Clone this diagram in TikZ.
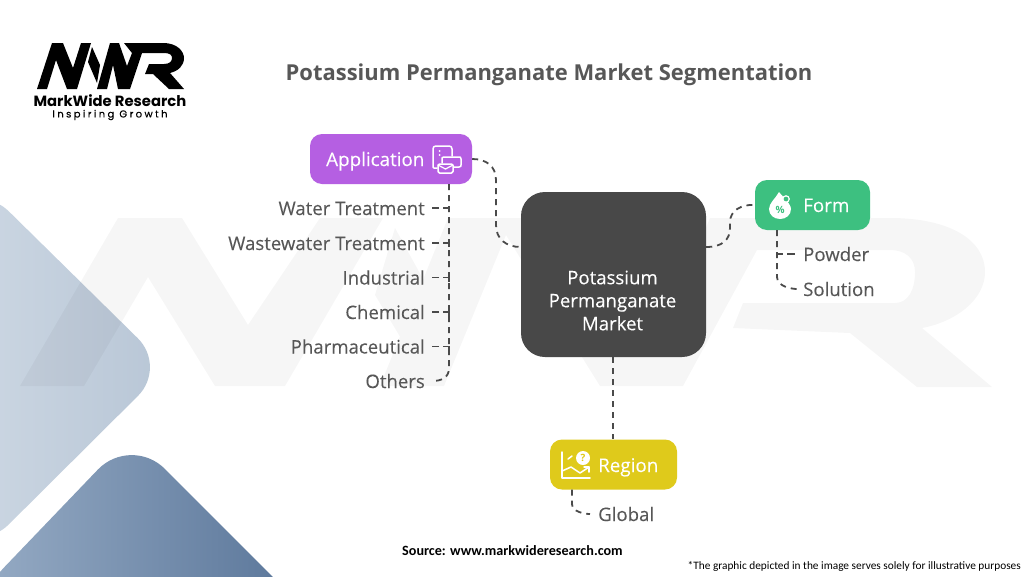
\documentclass[tikz,border=0pt]{standalone}
\usepackage{fontspec}
\usetikzlibrary{calc}
\setmainfont{Open Sans}
\newfontfamily\lbl[FakeBold=0.12]{Open Sans}
\newfontfamily\carl{Carlito}
\newfontfamily\popn{Poppins}
\newfontfamily\popls[LetterSpace=24,FakeBold=0.3]{Poppins}
\definecolor{txt}{HTML}{575757}
\definecolor{dashc}{HTML}{4A4A4A}
\definecolor{appc}{HTML}{B55FE2}
\definecolor{formc}{HTML}{3DC080}
\definecolor{regc}{HTML}{DFCA1B}
\definecolor{cenc}{HTML}{484848}
\tikzset{
 x=1pt,y=-1pt,
 box/.style={rounded corners=12pt,inner sep=0pt,minimum height=50pt},
 boxtxt/.style={inner sep=0pt,text=white,font=\lbl\fontsize{18.8}{23}\selectfont,text height=14pt,text depth=4pt},
 lab/.style={inner sep=0pt,text=txt,font=\lbl\fontsize{18.6}{23}\selectfont,text height=14pt,text depth=4pt},
 conn/.style={draw=dashc,line width=1.8pt,dash pattern=on 6pt off 5pt},
 tick/.style={conn,dash pattern=on 10pt off 4pt on 10pt},
 icon/.style={draw=white,line width=1.5pt,line cap=round,line join=round},
}
\begin{document}
\begin{tikzpicture}
\path[use as bounding box,fill=white] (0,0) rectangle (1024,576);
\begin{scope}
\clip (0,0) rectangle (1024,576);
\shade[left color={rgb,255:red,203;green,214;blue,226},right color={rgb,255:red,184;green,198;blue,214},rounded corners=41pt]
  (-20,183)--(167,367)--(-20,553)--cycle;
\shade[left color={rgb,255:red,152;green,173;blue,198},right color={rgb,255:red,88;green,116;blue,152},rounded corners=48pt]
  (-30,603)--(131,435)--(310,614)--cycle;
\fill[black,opacity=.035]
 (20,386)--(118,218)--(182,218)--(248,325)--(320,218)--(383,218)--(285,386)--(215,386)--(148,277)--(84,386)--cycle
 (395,228)--(440,310)--(420,370)--(375,295)--cycle
 (380,386)--(448,218)--(579,218)--(683,386)--(600,386)--(506,235)--(444,386)--cycle
 (710,218)--(890,218) .. controls (950,218) and (985,240) .. (985,272) .. controls (985,300) and (955,322) .. (922,328)
 --(992,387)--(917,387)--(850,333)--(733,328)--(743,303)--(895,303) .. controls (908,303) and (915,290) .. (915,272)
 .. controls (915,258) and (905,250) .. (890,250)--(757,250)--(683,386)--(640,386)--cycle;
\end{scope}
% logo
\fill[black]
 (37,89)--(52,43)--(63,43)--(73,68)--(81,43)--(91,43)--(77,89)--(67,89)--(56,60)--(47,89)--cycle
 (92,47)--(100,65)--(97,83)--(88,62)--cycle
 (97,89)--(110,43)--(119,43)--(127,66)--(132,53)--(124,43)--(163,43)
 .. controls (178,43) and (184,52) .. (184,58) .. controls (184,66) and (178,71) .. (170,73)
 --(184,89)--(169,89)--(153,74)--(145,74)--(149,64)--(164,64)
 .. controls (170,64) and (172,61) .. (172,58) .. controls (172,55) and (170,53) .. (164,53)
 --(142,53)--(130,89)--(118,89)--(113,65)--(107,89)--cycle;
\node[inner sep=0pt,font=\popn\bfseries\fontsize{14.8}{16}\selectfont] (brand) at (110,101) {MarkWide Research};
\node[inner sep=0pt,font=\popls\fontsize{10}{12}\selectfont] (tag) at (110,115) {Inspiring Growth};
\node[inner sep=0pt,text=txt,font=\bfseries\fontsize{21.95}{25}\selectfont] (title) at (549,75) {Potassium Permanganate Market Segmentation};
% boxes
\node[box,fill=appc,minimum width=162pt] (app) at (391,159) {};
\node[box,fill=formc,minimum width=115pt] (form) at (812.5,205) {};
\node[box,fill=regc,minimum width=127pt] (reg) at (613.5,464.5) {};
\node[fill=cenc,rounded corners=24pt,inner sep=0pt,minimum width=185pt,minimum height=165pt] (cen) at (613.5,274.5) {};
\node[boxtxt,anchor=west] (apptx) at (326,161) {Application};
\node[boxtxt,anchor=west] (formtx) at (803,207) {Form};
\node[boxtxt,anchor=west] (regtx) at (598,467) {Region};
\node[inner sep=0pt,text=white,align=center,font=\lbl\fontsize{18.6}{23}\selectfont] (centx) at (612.5,300.5) {Potassium\\Permanganate\\Market};
% labels
\node[lab,anchor=east] (l1) at (425,210) {Water Treatment};
\node[lab,anchor=east] (l2) at (425,245) {Wastewater Treatment};
\node[lab,anchor=east] (l3) at (425,279.5) {Industrial};
\node[lab,anchor=east] (l4) at (425,314) {Chemical};
\node[lab,anchor=east] (l5) at (425,348.5) {Pharmaceutical};
\node[lab,anchor=east] (l6) at (425,383) {Others};
\node[lab,anchor=west] (p1) at (803,256) {Powder};
\node[lab,anchor=west] (p2) at (803,291) {Solution};
\node[lab,anchor=west] (g1) at (598,516) {Global};
% connectors
\coordinate (av) at ([xshift=58pt]app.south);
\coordinate (fv) at ([xshift=-35.5pt]form.south);
\coordinate (rv) at ([xshift=-41.5pt]reg.south);
\draw[conn] (app.east) .. controls (486,159) and (496,166) .. (496,180) -- (496,225) .. controls (496,239) and (506,247) .. ([yshift=27.5pt]cen.west);
\draw[conn] (av) -- ([yshift=15pt]av|-l6.east) .. controls ([yshift=5pt]av|-l6.east) and ([xshift=-8pt,yshift=2pt]av|-l6.east) .. ([xshift=7pt,yshift=2pt]l6.east);
\foreach \n in {l1,l2,l3,l4,l5}{
  \draw[tick] ([yshift=-2pt]av|-\n.east) -- ([yshift=2pt]av|-\n.east) -- ([xshift=7pt,yshift=2pt]\n.east);
}
\draw[conn] ([yshift=27.5pt]cen.east) .. controls (722,247) and (730,240) .. (730,228) -- (730,222) .. controls (730,211) and (741,204) .. (form.west);
\draw[conn] (fv) -- ([yshift=14pt]fv|-p2.west) .. controls ([yshift=4pt]fv|-p2.west) and ([xshift=-10pt,yshift=2pt]p2.west) .. ([xshift=-6pt,yshift=2pt]p2.west);
\draw[tick] ([yshift=-2pt]fv|-p1.west) -- ([yshift=2pt]fv|-p1.west) -- ([xshift=-8pt,yshift=2pt]p1.west);
\draw[conn] ([xshift=-.5pt]cen.south) -- ([xshift=-.5pt]reg.north);
\draw[conn] (rv) -- ([yshift=12pt]rv|-g1.west) .. controls ([yshift=4pt]rv|-g1.west) and ([xshift=-13pt,yshift=2pt]g1.west) .. ([xshift=-8pt,yshift=2pt]g1.west);
% application icon
\draw[icon] (437,168)--(434,168) .. controls (433,168) and (433,167) .. (433,166) -- (433,149) .. controls (433,147) and (434,146) .. (436,146)--(449,146) .. controls (451,146) and (452,147) .. (452,149)--(452,156);
\draw[icon] (454,167)--(459,167) .. controls (461,167) and (461,166) .. (461,165)--(461,159) .. controls (461,157) and (460,157) .. (459,157)--(444,157) .. controls (442,157) and (442,158) .. (442,159)--(442,163);
\draw[icon,rounded corners=1.5pt] (438,164) rectangle (453,173);
\draw[icon,line width=1.2pt] (438,165)--(445.5,169)--(453,165);
\fill[white] (439.5,151) circle (1pt) (439.5,155) circle (1pt);
% form icon
\fill[white] (779,192) .. controls (776,198) and (769,203) .. (769,209) .. controls (769,215) and (774,219) .. (780,219) .. controls (786,219) and (791,215) .. (791,209) .. controls (791,204) and (783,197) .. (779,192) -- cycle;
\draw[white,fill=formc,line width=1.2pt] (786,199) circle (3.2pt);
\node[inner sep=0pt,text=formc,font=\bfseries\fontsize{10}{10}\selectfont] (pct) at (780,210) {\%};
% region icon
\draw[icon] (562,452)--(562,478)--(590,478);
\draw[icon] (562,471)--(571,467)--(580,473)--(589,467);
\draw[icon] (584,467)--(589,467)--(589,472);
\draw[icon] (568,459)--(572,456);
\fill[white] (583,458) circle (7pt);
\node[inner sep=0pt,text=regc,font=\bfseries\fontsize{10}{10}\selectfont] (qm) at (583,458) {?};
% footer
\node[inner sep=0pt,anchor=base west,font=\carl\bfseries\fontsize{14.15}{15}\selectfont] (src) at (402,555) {Source: www.markwideresearch.com};
\node[inner sep=0pt,anchor=base east,font=\carl\fontsize{11.33}{14}\selectfont] (note) at (1021,569) {*The graphic depicted in the image serves solely for illustrative purposes};
\end{tikzpicture}
\end{document}
